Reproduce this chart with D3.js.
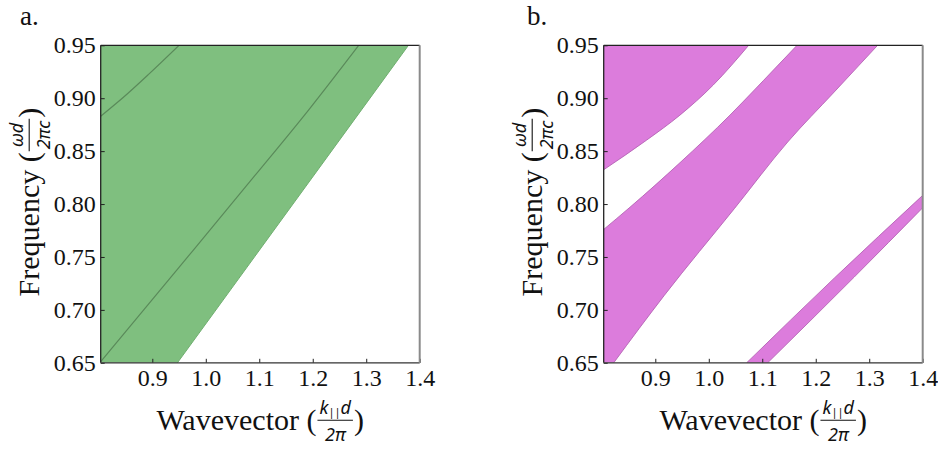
<!DOCTYPE html>
<html>
<head>
<meta charset="utf-8">
<script src="https://cdnjs.cloudflare.com/ajax/libs/d3/7.8.5/d3.min.js"></script>
<style>
  body { margin: 0; background: #fff; }
  svg { display: block; }
</style>
</head>
<body>
<div id="chart"></div>
<script>
// axis ranges and ticks
const kRange = [0.8035, 1.4];
const fRange = [0.65, 0.95];
const kTicks = [0.9, 1.0, 1.1, 1.2, 1.3, 1.4];
const fTicks = [0.65, 0.70, 0.75, 0.80, 0.85, 0.90, 0.95];

// panel a: edge of green band (lower-right boundary)
const aEdgeK = [0.947, 1.163, 1.379];
const aEdgeF = [0.65, 0.80, 0.95];
// panel a: inner dark lines
const aLine1K = [0.8035, 0.948, 1.092, 1.194, 1.286];
const aLine1F = [0.651, 0.739, 0.827, 0.890, 0.95];
const aLine2K = [0.8035, 0.853, 0.894, 0.950];
const aLine2F = [0.883, 0.904, 0.923, 0.95];

// panel b: top-left band lower edge
const bTopK = [0.8035, 0.884, 0.946, 1.0084, 1.0746];
const bTopF = [0.8324, 0.8605, 0.884, 0.9125, 0.95];
// panel b: middle band
const bMidUpK = [0.8035, 0.8527, 0.946, 1.0396, 1.1018, 1.165];
const bMidUpF = [0.776, 0.797, 0.839, 0.884, 0.9165, 0.95];
const bMidLoK = [0.8222, 0.9168, 1.0477, 1.1475, 1.2346, 1.3157];
const bMidLoF = [0.65, 0.7137, 0.7956, 0.8586, 0.9059, 0.95];
// panel b: thin lower-right band
const bLowUpK = [1.0708, 1.2346, 1.4];
const bLowUpF = [0.65, 0.730, 0.8082];
const bLowLoK = [1.1101, 1.272, 1.4];
const bLowLoF = [0.65, 0.731, 0.7965];

const W = 938, H = 449;
const serif = "'Liberation Serif', 'Times New Roman', serif";
const sans = "'Noto Sans', 'Open Sans', sans-serif";
const pw = 319, ph = 317.5;

const svg = d3.select("#chart").append("svg")
    .attr("width", W)
    .attr("height", H);

const zip = (K, F) => K.map((k, i) => [k, F[i]]);

function makePanel(id, ox, oy, letter, lx) {
    const x = d3.scaleLinear().domain(kRange).range([0, pw]);
    const y = d3.scaleLinear().domain(fRange).range([ph, 0]);
    const g = svg.append("g").attr("transform", "translate(" + ox + "," + oy + ")");

    g.append("clipPath").attr("id", "clip-" + id)
        .append("rect").attr("width", pw).attr("height", ph);
    const plot = g.append("g").attr("clip-path", "url(#clip-" + id + ")");

    const line = d3.line()
        .x(d => x(d[0]))
        .y(d => y(d[1]))
        .curve(d3.curveMonotoneX);

    // panel letter
    svg.append("text")
        .attr("x", lx).attr("y", 25)
        .attr("font-family", serif).attr("font-size", 27)
        .attr("fill", "#111")
        .text(letter);

    // polygon from a list of segments (single points are corners)
    function poly(segments) {
        let d = "";
        segments.forEach((s, i) => {
            let p;
            if (s.length === 1) {
                p = "M" + x(s[0][0]) + "," + y(s[0][1]);
            } else {
                p = line(s);
            }
            if (i > 0) p = p.replace(/^M/, "L");
            d += p;
        });
        return d + "Z";
    }

    return { g, plot, x, y, line, poly };
}

function drawAxes(p) {
    const { g, x, y } = p;
    const xa = g.append("g").attr("transform", "translate(0," + ph + ")")
        .call(d3.axisBottom(x).tickValues(kTicks).tickSize(-4).tickPadding(6)
            .tickFormat(d3.format(".1f")));
    const ya = g.append("g")
        .call(d3.axisLeft(y).tickValues(fTicks).tickSize(-4).tickPadding(5)
            .tickFormat(d3.format(".2f")));
    [xa, ya].forEach(a => {
        a.select(".domain").remove();
        a.selectAll(".tick line").attr("stroke", "#222").attr("stroke-width", 1);
        a.selectAll(".tick text")
            .attr("font-family", serif)
            .attr("font-size", 24)
            .attr("fill", "#111");
    });

    // frame
    g.append("line").attr("x1", 0).attr("y1", 0).attr("x2", 0).attr("y2", ph)
        .attr("stroke", "#222").attr("stroke-width", 1.3);
    g.append("line").attr("x1", 0).attr("y1", 0).attr("x2", pw).attr("y2", 0)
        .attr("stroke", "#222").attr("stroke-width", 1.3);
    g.append("line").attr("x1", 0).attr("y1", ph).attr("x2", pw).attr("y2", ph)
        .attr("stroke", "#333").attr("stroke-width", 1.3);
    g.append("line").attr("x1", pw).attr("y1", 0).attr("x2", pw).attr("y2", ph)
        .attr("stroke", "#8a8a8a").attr("stroke-width", 2);

    // x label: Wavevector (k||d / 2pi)
    const xl = g.append("g").attr("transform", "translate(" + (pw / 2) + "," + (ph + 67) + ")");
    makeLabel(xl, "Wavevector", t => {
        t.append("tspan").text("k");
        t.append("tspan").attr("font-size", 11).attr("dy", 2).attr("font-style", "normal").text("||");
        t.append("tspan").attr("dy", -2).text("d");
    }, "2π");

    // y label: Frequency (omega d / 2 pi c)
    const yl = g.append("g").attr("transform", "translate(-62," + (ph / 2 - 2) + ") rotate(-90)");
    makeLabel(yl, "Frequency", t => t.text("ωd"), "2πc");
}

function makeLabel(g, word, numFn, den) {
    const inner = g.append("g");
    const t = inner.append("text")
        .attr("font-family", serif).attr("font-size", 30).attr("fill", "#111")
        .text(word + " (");
    const w1 = t.node().getComputedTextLength();
    const num = inner.append("text")
        .attr("font-family", sans).attr("font-size", 18).attr("font-style", "italic")
        .attr("fill", "#111").attr("y", -16);
    numFn(num);
    const dn = inner.append("text")
        .attr("font-family", sans).attr("font-size", 18).attr("font-style", "italic")
        .attr("fill", "#111").attr("y", 11).text(den);
    const wn = num.node().getComputedTextLength();
    const wd = dn.node().getComputedTextLength();
    const fw = Math.max(wn, wd) + 4;
    const cx = w1 + 1 + fw / 2;
    num.attr("x", cx - wn / 2);
    dn.attr("x", cx - wd / 2);
    inner.append("line")
        .attr("x1", w1 + 1).attr("x2", w1 + 1 + fw)
        .attr("y1", -9.5).attr("y2", -9.5)
        .attr("stroke", "#111").attr("stroke-width", 1.1);
    const cp = inner.append("text")
        .attr("font-family", serif).attr("font-size", 30).attr("fill", "#111")
        .attr("x", w1 + fw + 2).text(")");
    const total = w1 + fw + 2 + cp.node().getComputedTextLength();
    inner.attr("transform", "translate(" + (-total / 2) + ",0)");
}

// ---------- panel a ----------
const pa = makePanel("a", 100.7, 45.3, "a.", 20);
{
    const { plot, line, poly } = pa;
    const x0 = kRange[0], y0 = fRange[0], y1 = fRange[1];
    plot.append("path")
        .attr("d", poly([zip(aEdgeK, aEdgeF), [[x0, y1]], [[x0, y0]]]))
        .attr("fill", "#7fbf7f");
    plot.append("path")
        .attr("d", line(zip(aEdgeK, aEdgeF)))
        .attr("fill", "none").attr("stroke", "#6fae6f").attr("stroke-width", 1);
    [zip(aLine1K, aLine1F), zip(aLine2K, aLine2F)].forEach(pts => {
        plot.append("path")
            .attr("d", line(pts))
            .attr("fill", "none")
            .attr("stroke", "#5a8a5a")
            .attr("stroke-width", 1.2);
    });
}
drawAxes(pa);

// ---------- panel b ----------
const pb = makePanel("b", 603.7, 45.3, "b.", 527);
{
    const { plot, line, poly } = pb;
    const x0 = kRange[0], y0 = fRange[0], y1 = fRange[1];
    const top = zip(bTopK, bTopF);
    const midUp = zip(bMidUpK, bMidUpF);
    const midLo = zip(bMidLoK, bMidLoF);
    const lowUp = zip(bLowUpK, bLowUpF);
    const lowLo = zip(bLowLoK, bLowLoF);
    const fill = "#dc7cdc", edge = "#b463b4";

    plot.append("path").attr("d", poly([top, [[x0, y1]]])).attr("fill", fill);
    plot.append("path")
        .attr("d", poly([midLo, midUp.slice().reverse(), [[x0, y0]]]))
        .attr("fill", fill);
    plot.append("path")
        .attr("d", poly([lowLo, lowUp.slice().reverse()]))
        .attr("fill", fill);

    [top, midUp, midLo, lowUp, lowLo].forEach(pts => {
        plot.append("path")
            .attr("d", line(pts))
            .attr("fill", "none")
            .attr("stroke", edge)
            .attr("stroke-width", 0.9);
    });
}
drawAxes(pb);
</script>
</body>
</html>
